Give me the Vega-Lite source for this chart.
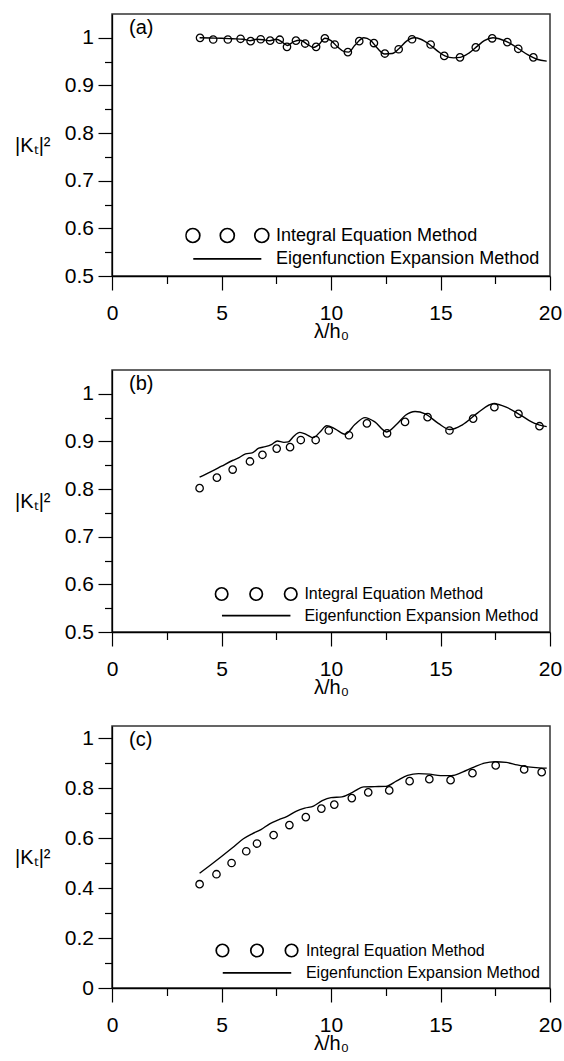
{
  "$schema": "https://vega.github.io/schema/vega-lite/v6.json",
  "padding": {"top": 13, "left": 13, "right": 2, "bottom": 2},
  "autosize": {"type": "pad"},
  "spacing": 27,
  "config": {
    "font": "Liberation Sans",
    "view": {"stroke": "#333", "strokeWidth": 1.5},
    "axis": {"labelFont": "Liberation Sans", "labelFontSize": 21, "labelColor": "#000", "titleFont": "Liberation Sans", "titleFontSize": 20, "titleFontWeight": "normal", "titleColor": "#000", "domainColor": "#000", "tickColor": "#000", "grid": false, "domainWidth": 1.3, "tickWidth": 1.2, "labelOverlap": false},
    "legend": {"title": null, "orient": "none", "direction": "vertical", "symbolSize": 6724, "symbolStrokeWidth": 1.7, "symbolStrokeColor": "#000", "symbolFillColor": "transparent", "labelFont": "Liberation Sans", "labelColor": "#000", "labelLimit": 500, "padding": 0, "offset": 0},
    "title": {"anchor": "start", "frame": "group", "offset": 0, "dx": 17, "dy": 28, "baseline": "alphabetic", "fontSize": 20, "fontWeight": "normal", "font": "Liberation Sans", "color": "#000"}
  },
  "resolve": {"scale": {"color": "independent"}, "legend": {"color": "independent"}},
  "datasets": {
    "a_pts": [
      {"x": 4.02, "y": 1.0}, {"x": 4.62, "y": 0.9965}, {"x": 5.29, "y": 0.9965}, {"x": 5.87, "y": 0.998}, {"x": 6.33, "y": 0.993}, {"x": 6.79, "y": 0.997}, {"x": 7.22, "y": 0.994}, {"x": 7.66, "y": 0.996}, {"x": 7.99, "y": 0.981}, {"x": 8.4, "y": 0.994}, {"x": 8.82, "y": 0.988}, {"x": 9.32, "y": 0.981}, {"x": 9.72, "y": 0.999}, {"x": 10.17, "y": 0.986}, {"x": 10.77, "y": 0.970}, {"x": 11.29, "y": 0.993}, {"x": 11.96, "y": 0.989}, {"x": 12.46, "y": 0.967}, {"x": 13.09, "y": 0.976}, {"x": 13.7, "y": 0.997}, {"x": 14.55, "y": 0.986}, {"x": 15.17, "y": 0.962}, {"x": 15.89, "y": 0.959}, {"x": 16.61, "y": 0.980}, {"x": 17.36, "y": 0.999}, {"x": 18.05, "y": 0.991}, {"x": 18.55, "y": 0.977}, {"x": 19.24, "y": 0.959}
    ],
    "a_line": [
      {"x": 4.0, "y": 1.0}, {"x": 4.5, "y": 0.9995}, {"x": 5.0, "y": 0.999}, {"x": 5.5, "y": 0.998}, {"x": 6.0, "y": 0.997}, {"x": 6.3, "y": 0.994}, {"x": 6.6, "y": 0.997}, {"x": 6.9, "y": 0.996}, {"x": 7.2, "y": 0.994}, {"x": 7.5, "y": 0.997}, {"x": 7.8, "y": 0.990}, {"x": 8.0, "y": 0.984}, {"x": 8.3, "y": 0.992}, {"x": 8.6, "y": 0.995}, {"x": 8.9, "y": 0.987}, {"x": 9.2, "y": 0.980}, {"x": 9.45, "y": 0.986}, {"x": 9.72, "y": 0.999}, {"x": 10.0, "y": 0.994}, {"x": 10.3, "y": 0.981}, {"x": 10.6, "y": 0.971}, {"x": 10.8, "y": 0.970}, {"x": 11.1, "y": 0.985}, {"x": 11.5, "y": 1.0}, {"x": 11.8, "y": 0.995}, {"x": 12.1, "y": 0.979}, {"x": 12.45, "y": 0.966}, {"x": 12.8, "y": 0.967}, {"x": 13.1, "y": 0.977}, {"x": 13.45, "y": 0.993}, {"x": 13.8, "y": 1.0}, {"x": 14.1, "y": 0.997}, {"x": 14.5, "y": 0.986}, {"x": 14.9, "y": 0.971}, {"x": 15.2, "y": 0.962}, {"x": 15.6, "y": 0.958}, {"x": 15.9, "y": 0.959}, {"x": 16.3, "y": 0.968}, {"x": 16.7, "y": 0.983}, {"x": 17.0, "y": 0.994}, {"x": 17.4, "y": 1.0}, {"x": 17.8, "y": 0.996}, {"x": 18.2, "y": 0.988}, {"x": 18.6, "y": 0.976}, {"x": 19.0, "y": 0.964}, {"x": 19.4, "y": 0.955}, {"x": 19.85, "y": 0.951}
    ],
    "b_pts": [
      {"x": 4.0, "y": 0.802}, {"x": 4.79, "y": 0.824}, {"x": 5.51, "y": 0.841}, {"x": 6.3, "y": 0.858}, {"x": 6.87, "y": 0.872}, {"x": 7.52, "y": 0.885}, {"x": 8.13, "y": 0.888}, {"x": 8.62, "y": 0.903}, {"x": 9.3, "y": 0.903}, {"x": 9.9, "y": 0.923}, {"x": 10.82, "y": 0.913}, {"x": 11.64, "y": 0.938}, {"x": 12.56, "y": 0.917}, {"x": 13.38, "y": 0.941}, {"x": 14.41, "y": 0.951}, {"x": 15.41, "y": 0.923}, {"x": 16.49, "y": 0.948}, {"x": 17.46, "y": 0.972}, {"x": 18.56, "y": 0.958}, {"x": 19.52, "y": 0.932}
    ],
    "b_line": [
      {"x": 4.0, "y": 0.825}, {"x": 4.5, "y": 0.836}, {"x": 5.0, "y": 0.848}, {"x": 5.5, "y": 0.860}, {"x": 5.8, "y": 0.866}, {"x": 6.1, "y": 0.874}, {"x": 6.4, "y": 0.876}, {"x": 6.7, "y": 0.886}, {"x": 7.0, "y": 0.889}, {"x": 7.3, "y": 0.894}, {"x": 7.55, "y": 0.901}, {"x": 7.85, "y": 0.898}, {"x": 8.05, "y": 0.899}, {"x": 8.3, "y": 0.911}, {"x": 8.58, "y": 0.919}, {"x": 8.9, "y": 0.914}, {"x": 9.19, "y": 0.908}, {"x": 9.5, "y": 0.920}, {"x": 9.8, "y": 0.933}, {"x": 10.2, "y": 0.926}, {"x": 10.64, "y": 0.915}, {"x": 11.1, "y": 0.936}, {"x": 11.55, "y": 0.950}, {"x": 12.0, "y": 0.941}, {"x": 12.54, "y": 0.920}, {"x": 13.0, "y": 0.936}, {"x": 13.4, "y": 0.955}, {"x": 13.84, "y": 0.963}, {"x": 14.3, "y": 0.958}, {"x": 14.9, "y": 0.938}, {"x": 15.43, "y": 0.925}, {"x": 16.0, "y": 0.935}, {"x": 16.7, "y": 0.960}, {"x": 17.41, "y": 0.979}, {"x": 18.0, "y": 0.972}, {"x": 18.7, "y": 0.954}, {"x": 19.3, "y": 0.938}, {"x": 19.85, "y": 0.931}
    ],
    "c_pts": [
      {"x": 4.0, "y": 0.416}, {"x": 4.77, "y": 0.456}, {"x": 5.46, "y": 0.501}, {"x": 6.13, "y": 0.548}, {"x": 6.62, "y": 0.579}, {"x": 7.38, "y": 0.613}, {"x": 8.1, "y": 0.653}, {"x": 8.85, "y": 0.685}, {"x": 9.56, "y": 0.719}, {"x": 10.15, "y": 0.735}, {"x": 10.95, "y": 0.761}, {"x": 11.7, "y": 0.784}, {"x": 12.66, "y": 0.792}, {"x": 13.59, "y": 0.829}, {"x": 14.49, "y": 0.837}, {"x": 15.46, "y": 0.833}, {"x": 16.46, "y": 0.861}, {"x": 17.52, "y": 0.892}, {"x": 18.82, "y": 0.876}, {"x": 19.62, "y": 0.865}
    ],
    "c_line": [
      {"x": 4.0, "y": 0.460}, {"x": 4.5, "y": 0.493}, {"x": 5.0, "y": 0.527}, {"x": 5.5, "y": 0.562}, {"x": 6.0, "y": 0.598}, {"x": 6.4, "y": 0.618}, {"x": 6.8, "y": 0.635}, {"x": 7.2, "y": 0.658}, {"x": 7.6, "y": 0.674}, {"x": 8.0, "y": 0.688}, {"x": 8.4, "y": 0.708}, {"x": 8.8, "y": 0.721}, {"x": 9.2, "y": 0.729}, {"x": 9.6, "y": 0.751}, {"x": 10.0, "y": 0.763}, {"x": 10.5, "y": 0.766}, {"x": 11.0, "y": 0.785}, {"x": 11.5, "y": 0.806}, {"x": 12.0, "y": 0.807}, {"x": 12.5, "y": 0.808}, {"x": 13.0, "y": 0.830}, {"x": 13.5, "y": 0.852}, {"x": 14.0, "y": 0.859}, {"x": 14.5, "y": 0.857}, {"x": 15.0, "y": 0.851}, {"x": 15.5, "y": 0.851}, {"x": 16.0, "y": 0.865}, {"x": 16.5, "y": 0.884}, {"x": 17.0, "y": 0.901}, {"x": 17.5, "y": 0.907}, {"x": 18.0, "y": 0.904}, {"x": 18.5, "y": 0.894}, {"x": 19.0, "y": 0.886}, {"x": 19.5, "y": 0.882}, {"x": 19.85, "y": 0.881}
    ]
  },
  "vconcat": [
    {
      "width": 438, "height": 262,
      "title": {"text": "(a)"},
      "encoding": {
        "x": {"field": "x", "type": "quantitative", "scale": {"domain": [0, 20], "nice": false, "zero": false},
          "axis": {"values": [0, 2.5, 5, 7.5, 10, 12.5, 15, 17.5, 20], "format": "~g", "labelExpr": "datum.value % 5 === 0 ? datum.label : ''", "tickSize": {"condition": {"test": "datum.value % 5 === 0", "value": 14}, "value": 7.5}, "labelPadding": 12.5, "labelFlush": false, "title": "λ/h₀", "titleY": 61, "titleBaseline": "alphabetic"}},
        "y": {"field": "y", "type": "quantitative", "scale": {"domain": [0.5, 1.05], "nice": false, "zero": false},
          "axis": {"values": [0.5, 0.55, 0.6, 0.65, 0.7, 0.75, 0.8, 0.85, 0.9, 0.95, 1.0], "format": "~g", "labelExpr": "abs(datum.value*10 - round(datum.value*10)) < 0.001 ? datum.label : ''", "tickSize": {"condition": {"test": "abs(datum.value*10 - round(datum.value*10)) < 0.001", "value": 14}, "value": 7.5}, "labelPadding": 4.5, "title": "|Kₜ|²", "titleAngle": 0, "titleAlign": "right", "titleBaseline": "middle", "titleX": -62, "titleY": 131}}
      },
      "layer": [
        {"data": {"name": "a_line"}, "mark": {"type": "line", "color": "#000", "strokeWidth": 1.4, "interpolate": "monotone"}},
        {"data": {"name": "a_pts"}, "mark": {"type": "point", "filled": false, "size": 55, "strokeWidth": 1.3, "opacity": 1},
          "encoding": {"color": {"datum": "Integral Equation Method", "type": "nominal",
            "scale": {"domain": ["Integral Equation Method", "Eigenfunction Expansion Method"], "range": ["#000000", "#000000"]},
            "legend": {"legendX": 73.3, "legendY": 210.5, "labelFontSize": 18, "labelOffset": 6.7, "clipHeight": 22, "rowPadding": 1.3,
              "symbolType": {"expr": "datum.value === 'Integral Equation Method' ? 'M -0.670 0 C -0.670 0.0944 -0.7466 0.171 -0.841 0.171 C -0.9354 0.171 -1.012 0.0944 -1.012 0 C -1.012 -0.0944 -0.9354 -0.171 -0.841 -0.171 C -0.7466 -0.171 -0.670 -0.0944 -0.670 0 Z M 0.171 0 C 0.171 0.0944 0.0944 0.171 0 0.171 C -0.0944 0.171 -0.171 0.0944 -0.171 0 C -0.171 -0.0944 -0.0944 -0.171 0 -0.171 C 0.0944 -0.171 0.171 -0.0944 0.171 0 Z M 1.012 0 C 1.012 0.0944 0.9354 0.171 0.841 0.171 C 0.7466 0.171 0.670 0.0944 0.670 0 C 0.670 -0.0944 0.7466 -0.171 0.841 -0.171 C 0.9354 -0.171 1.012 -0.0944 1.012 0 Z' : 'M -0.83 0 L 0.83 0'"}}}}}
      ]
    },
    {
      "width": 438, "height": 262,
      "title": {"text": "(b)"},
      "encoding": {
        "x": {"field": "x", "type": "quantitative", "scale": {"domain": [0, 20], "nice": false, "zero": false},
          "axis": {"values": [0, 2.5, 5, 7.5, 10, 12.5, 15, 17.5, 20], "format": "~g", "labelExpr": "datum.value % 5 === 0 ? datum.label : ''", "tickSize": {"condition": {"test": "datum.value % 5 === 0", "value": 14}, "value": 7.5}, "labelPadding": 12.5, "labelFlush": false, "title": "λ/h₀", "titleY": 61, "titleBaseline": "alphabetic"}},
        "y": {"field": "y", "type": "quantitative", "scale": {"domain": [0.5, 1.05], "nice": false, "zero": false},
          "axis": {"values": [0.5, 0.55, 0.6, 0.65, 0.7, 0.75, 0.8, 0.85, 0.9, 0.95, 1.0], "format": "~g", "labelExpr": "abs(datum.value*10 - round(datum.value*10)) < 0.001 ? datum.label : ''", "tickSize": {"condition": {"test": "abs(datum.value*10 - round(datum.value*10)) < 0.001", "value": 14}, "value": 7.5}, "labelPadding": 4.5, "title": "|Kₜ|²", "titleAngle": 0, "titleAlign": "right", "titleBaseline": "middle", "titleX": -62, "titleY": 131}}
      },
      "layer": [
        {"data": {"name": "b_line"}, "mark": {"type": "line", "color": "#000", "strokeWidth": 1.4, "interpolate": "monotone"}},
        {"data": {"name": "b_pts"}, "mark": {"type": "point", "filled": false, "size": 55, "strokeWidth": 1.3, "opacity": 1},
          "encoding": {"color": {"datum": "Integral Equation Method", "type": "nominal",
            "scale": {"domain": ["Integral Equation Method", "Eigenfunction Expansion Method"], "range": ["#000000", "#000000"]},
            "legend": {"legendX": 102.2, "legendY": 213.5, "labelFontSize": 16, "labelOffset": 6.2, "clipHeight": 21, "rowPadding": 0.6,
              "symbolType": {"expr": "datum.value === 'Integral Equation Method' ? 'M -0.691 0 C -0.691 0.084 -0.759 0.152 -0.843 0.152 C -0.927 0.152 -0.995 0.084 -0.995 0 C -0.995 -0.084 -0.927 -0.152 -0.843 -0.152 C -0.759 -0.152 -0.691 -0.084 -0.691 0 Z M 0.152 0 C 0.152 0.084 0.084 0.152 0 0.152 C -0.084 0.152 -0.152 0.084 -0.152 0 C -0.152 -0.084 -0.084 -0.152 0 -0.152 C 0.084 -0.152 0.152 -0.084 0.152 0 Z M 0.995 0 C 0.995 0.084 0.927 0.152 0.843 0.152 C 0.759 0.152 0.691 0.084 0.691 0 C 0.691 -0.084 0.759 -0.152 0.843 -0.152 C 0.927 -0.152 0.995 -0.084 0.995 0 Z' : 'M -0.835 0 L 0.835 0'"}}}}}
      ]
    },
    {
      "width": 438, "height": 262,
      "title": {"text": "(c)"},
      "encoding": {
        "x": {"field": "x", "type": "quantitative", "scale": {"domain": [0, 20], "nice": false, "zero": false},
          "axis": {"values": [0, 2.5, 5, 7.5, 10, 12.5, 15, 17.5, 20], "format": "~g", "labelExpr": "datum.value % 5 === 0 ? datum.label : ''", "tickSize": {"condition": {"test": "datum.value % 5 === 0", "value": 14}, "value": 7.5}, "labelPadding": 12.5, "labelFlush": false, "title": "λ/h₀", "titleY": 61, "titleBaseline": "alphabetic"}},
        "y": {"field": "y", "type": "quantitative", "scale": {"domain": [0, 1.05], "nice": false, "zero": false},
          "axis": {"values": [0, 0.1, 0.2, 0.3, 0.4, 0.5, 0.6, 0.7, 0.8, 0.9, 1.0], "format": "~g", "labelExpr": "round(datum.value*10) % 2 === 0 ? datum.label : ''", "tickSize": {"condition": {"test": "round(datum.value*10) % 2 === 0", "value": 14}, "value": 7.5}, "labelPadding": 4.5, "title": "|Kₜ|²", "titleAngle": 0, "titleAlign": "right", "titleBaseline": "middle", "titleX": -62, "titleY": 131}}
      },
      "layer": [
        {"data": {"name": "c_line"}, "mark": {"type": "line", "color": "#000", "strokeWidth": 1.4, "interpolate": "monotone"}},
        {"data": {"name": "c_pts"}, "mark": {"type": "point", "filled": false, "size": 55, "strokeWidth": 1.3, "opacity": 1},
          "encoding": {"color": {"datum": "Integral Equation Method", "type": "nominal",
            "scale": {"domain": ["Integral Equation Method", "Eigenfunction Expansion Method"], "range": ["#000000", "#000000"]},
            "legend": {"legendX": 103, "legendY": 214, "labelFontSize": 16, "labelOffset": 6.9, "clipHeight": 21, "rowPadding": 1.4,
              "symbolType": {"expr": "datum.value === 'Integral Equation Method' ? 'M -0.691 0 C -0.691 0.084 -0.759 0.152 -0.843 0.152 C -0.927 0.152 -0.995 0.084 -0.995 0 C -0.995 -0.084 -0.927 -0.152 -0.843 -0.152 C -0.759 -0.152 -0.691 -0.084 -0.691 0 Z M 0.152 0 C 0.152 0.084 0.084 0.152 0 0.152 C -0.084 0.152 -0.152 0.084 -0.152 0 C -0.152 -0.084 -0.084 -0.152 0 -0.152 C 0.084 -0.152 0.152 -0.084 0.152 0 Z M 0.995 0 C 0.995 0.084 0.927 0.152 0.843 0.152 C 0.759 0.152 0.691 0.084 0.691 0 C 0.691 -0.084 0.759 -0.152 0.843 -0.152 C 0.927 -0.152 0.995 -0.084 0.995 0 Z' : 'M -0.835 0 L 0.835 0'"}}}}}
      ]
    }
  ]
}
